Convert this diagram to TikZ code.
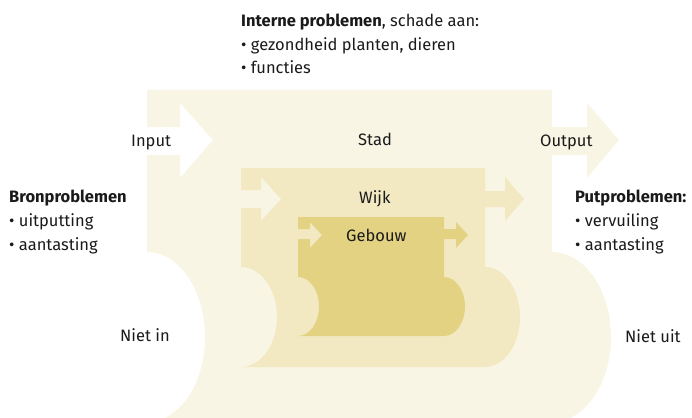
\documentclass[tikz,border=0pt]{standalone}
\usepackage{fontspec}
\setmainfont{Fira Sans}
\definecolor{stadc}{HTML}{F9F5E4}
\definecolor{wijkc}{HTML}{F2E9C2}
\definecolor{gebc}{HTML}{E3D281}
\definecolor{txtc}{HTML}{1A1A1A}
\begin{document}
\begin{tikzpicture}[x=1pt,y=-1pt,
  lbl/.style={anchor=base west, inner sep=0pt, font=\fontsize{16.5}{24}\selectfont, text=txtc}]
\useasboundingbox (0,0) rectangle (692,417);
\clip (0,0) rectangle (692,417);
% Stad
\fill[stadc] (147,90) -- (552,90) -- (552,127) -- (587,127) -- (587,103) -- (619,140) -- (587,178) -- (587,155) -- (552,155)
  -- (552,252) arc[start angle=90,end angle=-90,x radius=59pt,y radius=85pt]
  -- (147,422) arc[start angle=-90,end angle=90,x radius=58pt,y radius=85pt]
  -- (147,155) -- (180,155) -- (180,178) -- (213,140) -- (180,103) -- (180,127) -- (147,127) -- cycle;
% Wijk
\fill[wijkc] (241,168) -- (485,168) -- (485,191) -- (505,191) -- (505,177) -- (524,199) -- (505,221) -- (505,207) -- (485,207)
  -- (485,267) arc[start angle=90,end angle=-90,x radius=35pt,y radius=50pt]
  -- (241,367) arc[start angle=-90,end angle=90,x radius=36pt,y radius=50pt]
  -- (241,208) -- (261,208) -- (261,221) -- (281,199) -- (261,177) -- (261,190) -- (241,190) -- cycle;
% Gebouw
\fill[gebc] (298,217) -- (444,217) -- (444,229) -- (456,229) -- (456,222) -- (468,235) -- (456,248) -- (456,239) -- (444,239)
  -- (444,277) arc[start angle=90,end angle=-90,x radius=21pt,y radius=29.5pt]
  -- (298,336) arc[start angle=-90,end angle=90,x radius=21pt,y radius=29.5pt]
  -- (298,239) -- (310,239) -- (310,248) -- (322,235) -- (310,222) -- (310,229) -- (298,229) -- cycle;
% Texts
\node[lbl] (int1) at (241,27) {\textbf{Interne problemen}, schade aan:};
\node[lbl] (int2) at (241,50.5) {• gezondheid planten, dieren};
\node[lbl] (int3) at (241,74) {• functies};
\node[lbl] (bron1) at (9,202) {\textbf{Bronproblemen}};
\node[lbl] (bron2) at (9,226) {• uitputting};
\node[lbl] (bron3) at (9,250) {• aantasting};
\node[lbl] (put1) at (575,202) {\textbf{Putproblemen:}};
\node[lbl] (put2) at (575,226) {• vervuiling};
\node[lbl] (put3) at (575,250) {• aantasting};
\node[lbl] (input) at (131,146) {Input};
\node[lbl] (output) at (540,146) {Output};
\node[lbl] (stad) at (358,145) {Stad};
\node[lbl] (wijk) at (359,203) {Wijk};
\node[lbl] (gebouw) at (346,241) {Gebouw};
\node[lbl] (nietin) at (120,341) {Niet in};
\node[lbl] (nietuit) at (625,342) {Niet uit};
\end{tikzpicture}
\end{document}
